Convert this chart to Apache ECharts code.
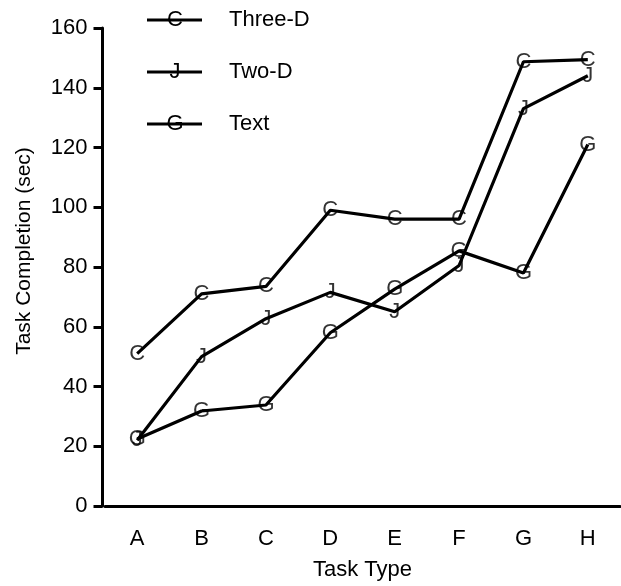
<!DOCTYPE html>
<html>
<head>
<meta charset="utf-8">
<script src="https://cdn.jsdelivr.net/npm/echarts@6/dist/echarts.min.js"></script>
<style>
  html, body { margin: 0; padding: 0; background: #fff; }
  #chart { width: 621px; height: 586px; }
</style>
</head>
<body>
<div id="chart"></div>
<script>
// Task types on the x axis
const categories = ['A', 'B', 'C', 'D', 'E', 'F', 'G', 'H'];

// Completion times (sec)
const threeD = [51, 71, 73.5, 99, 96, 96, 148.7, 149.4];
const twoD = [22, 50, 62.7, 71.5, 65, 80.5, 133, 144];
const textOnly = [22.4, 31.8, 33.8, 58, 72.6, 85.4, 78, 121];

const seriesNames = ['Three-D', 'Two-D', 'Text'];
const seriesGlyphs = ['C', 'J', 'G'];
const seriesData = [threeD, twoD, textOnly];

const yTicks = [0, 20, 40, 60, 80, 100, 120, 140, 160];

const FONT = '"Liberation Sans", Arial, sans-serif';

const chart = echarts.init(document.getElementById('chart'));

const series = [];
seriesData.forEach((vals, i) => {
  series.push({
    name: seriesNames[i],
    type: 'line',
    data: vals,
    symbol: 'none',
    lineStyle: { color: '#000', width: 3.2 },
    z: 2,
    animation: false
  });
  // letter glyphs used as point markers
  series.push({
    name: seriesNames[i] + ' marker',
    type: 'scatter',
    data: vals,
    symbolSize: 1,
    itemStyle: { color: 'rgba(0,0,0,0)' },
    label: {
      show: true,
      position: 'inside',
      formatter: seriesGlyphs[i],
      color: '#000',
      fontFamily: FONT,
      fontSize: 22
    },
    z: 3,
    animation: false
  });
});

// legend drawn as line + glyph + name
const legendTop = [20, 72, 124];
const legendItems = [];
seriesNames.forEach((name, i) => {
  legendItems.push({
    type: 'line',
    shape: { x1: 147, y1: legendTop[i], x2: 202, y2: legendTop[i] },
    style: { stroke: '#000', lineWidth: 3 }
  });
  legendItems.push({
    type: 'text',
    x: 175, y: legendTop[i],
    style: { text: seriesGlyphs[i], font: '22px ' + FONT, fill: '#000', align: 'center', verticalAlign: 'middle' }
  });
  legendItems.push({
    type: 'text',
    x: 229, y: legendTop[i],
    style: { text: name, font: '22px ' + FONT, fill: '#000', align: 'left', verticalAlign: 'middle' }
  });
});

const option = {
  backgroundColor: '#fff',
  animation: false,
  grid: { left: 105, right: 1, top: 28, bottom: 76 },
  xAxis: {
    type: 'category',
    data: categories,
    boundaryGap: true,
    name: 'Task Type',
    nameLocation: 'middle',
    nameGap: 53,
    nameTextStyle: { fontFamily: FONT, fontSize: 22, color: '#000' },
    axisLine: { lineStyle: { color: '#000', width: 3 } },
    axisTick: { alignWithLabel: true, length: 14, lineStyle: { color: '#000', width: 3 } },
    axisLabel: { fontFamily: FONT, fontSize: 22, color: '#000', margin: 22 },
    splitLine: { show: false }
  },
  yAxis: {
    type: 'value',
    min: yTicks[0],
    max: yTicks[yTicks.length - 1],
    interval: 20,
    offset: 2.5,
    name: 'Task Completion (sec)',
    nameLocation: 'middle',
    nameGap: 68,
    nameTextStyle: { fontFamily: FONT, fontSize: 21, color: '#000', padding: [0, 0, 0, 32] },
    axisLine: { show: true, lineStyle: { color: '#000', width: 3 } },
    axisTick: { show: true, length: 9, lineStyle: { color: '#000', width: 3 } },
    axisLabel: { fontFamily: FONT, fontSize: 22, color: '#000', margin: 15 },
    splitLine: { show: false }
  },
  series: series,
  graphic: legendItems
};

chart.setOption(option);
</script>
</body>
</html>
